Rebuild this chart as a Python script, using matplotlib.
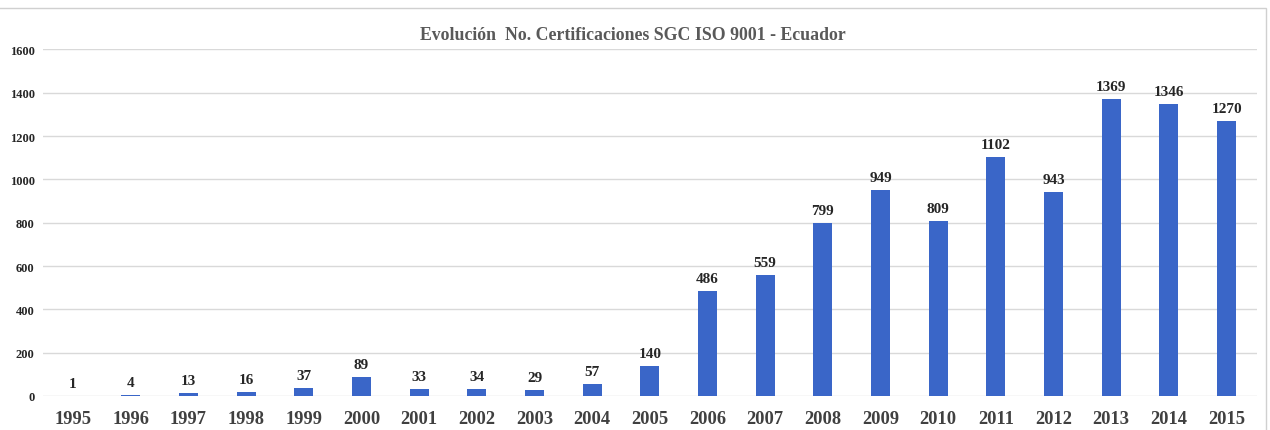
import numpy as np
import matplotlib.pyplot as plt
from matplotlib.patches import Rectangle

# ISO 9001 certificates per year, Ecuador
years = ['1995', '1996', '1997', '1998', '1999', '2000', '2001', '2002', '2003', '2004', '2005',
         '2006', '2007', '2008', '2009', '2010', '2011', '2012', '2013', '2014', '2015']
certs = [1, 4, 13, 16, 37, 89, 33, 34, 29, 57, 140,
         486, 559, 799, 949, 809, 1102, 943, 1369, 1346, 1270]
yticks = [0, 200, 400, 600, 800, 1000, 1200, 1400, 1600]

plt.rcParams['font.family'] = ['Liberation Serif', 'DejaVu Serif']
plt.rcParams['font.weight'] = 'bold'

fig = plt.figure(figsize=(12.7, 4.31), dpi=100)
ax = fig.add_axes([0.0339, 0.079, 0.9555, 0.804])

x = np.arange(len(years))
bars = ax.bar(x, certs, width=0.33, color='#3a66c8', zorder=3)
for b, v in zip(bars, certs):
    ax.annotate(str(v), (b.get_x() + b.get_width() / 2, v), xytext=(0, 6.5),
                textcoords='offset points', ha='center', va='baseline',
                fontsize=11, fontweight='bold', color='#262626')

ax.set_xlim(-0.52, len(years) - 0.48)
ax.set_ylim(0, 1600)
ax.set_xticks(x)
ax.set_xticklabels(years, fontsize=13.3, fontweight='bold', color='#404040')
ax.set_yticks(yticks)
ax.set_yticklabels([str(t) for t in yticks], fontsize=9, fontweight='bold', color='#262626')
ax.tick_params(axis='x', length=0, pad=10)
ax.tick_params(axis='y', length=0, pad=6)
ax.grid(axis='y', color='#d9d9d9', linewidth=1, zorder=0)
for s in ax.spines.values():
    s.set_visible(False)

fig.text(0.498, 0.918, 'Evolución  No. Certificaciones SGC ISO 9001 - Ecuador',
         ha='center', va='center', fontsize=12.8, fontweight='bold', color='#595959')

# outer chart frame
fig.patches.append(Rectangle((-0.01, -0.01), 1.007, 0.989, transform=fig.transFigure,
                             fill=False, edgecolor='#d0d0d0', linewidth=1))

fig.savefig('out.png', dpi=100)
